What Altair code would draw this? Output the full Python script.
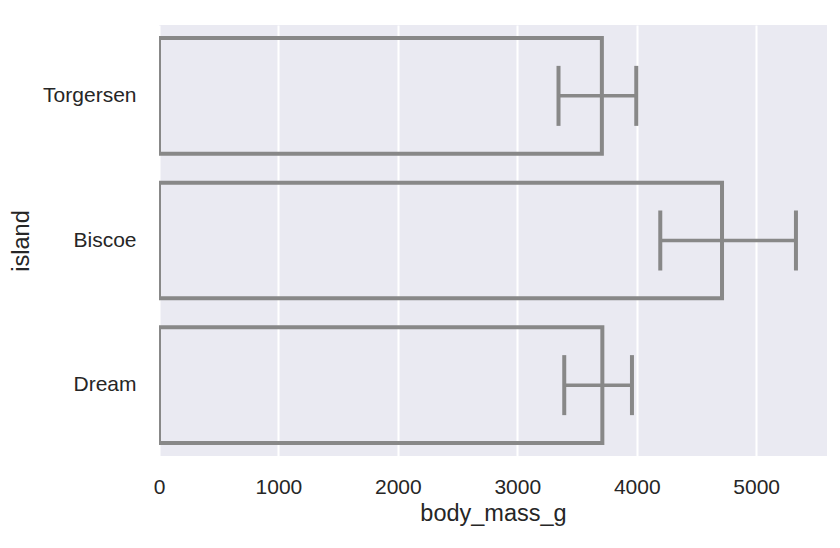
import altair as alt
import pandas as pd

islands = ["Torgersen", "Biscoe", "Dream"]
mean_mass = [3708, 4714, 3712]
err_low = [3345, 4197, 3393]
err_high = [3996, 5333, 3960]
x_ticks = [0, 1000, 2000, 3000, 4000, 5000]

df = pd.DataFrame({
    "island": islands,
    "body_mass_g": mean_mass,
    "lo": err_low,
    "hi": err_high,
})

GRAY = "#888888"
FONT = "Liberation Sans"
TEXT = "#262626"

y_enc = alt.Y(
    "island:N",
    sort=islands,
    scale=alt.Scale(paddingInner=0.2, paddingOuter=0.09),
    axis=alt.Axis(
        title="island", labelFontSize=21, titleFontSize=23.5, labelPadding=23,
        titlePadding=9, ticks=False, domain=False, grid=False,
        labelColor=TEXT, titleColor=TEXT, labelFont=FONT, titleFont=FONT,
        titleFontWeight="normal",
    ),
)

x_scale = alt.Scale(domain=[0, 5593], nice=False, zero=True)
x_axis = alt.Axis(
    title="body_mass_g", values=x_ticks, format="d", labelFontSize=21,
    titleFontSize=23.5, labelPadding=20.5, titlePadding=4, ticks=False,
    domain=False, grid=True, gridColor="white", gridWidth=2, gridOpacity=1,
    labelFlush=False, labelColor=TEXT, titleColor=TEXT, labelFont=FONT,
    titleFont=FONT, titleFontWeight="normal",
)

base = alt.Chart(df)

bars = base.mark_bar(
    fill="transparent", stroke=GRAY, strokeWidth=4, clip=True,
).encode(
    x=alt.X("body_mass_g:Q", scale=x_scale, axis=x_axis),
    y=y_enc,
)

err_line = base.mark_rule(stroke=GRAY, strokeWidth=3.5).encode(
    x=alt.X("lo:Q", scale=x_scale),
    x2="hi:Q",
    y=alt.Y("island:N", sort=islands),
)

caps_lo = base.mark_tick(color=GRAY, size=60, thickness=4, opacity=1).encode(
    x=alt.X("lo:Q", scale=x_scale),
    y=alt.Y("island:N", sort=islands),
)
caps_hi = base.mark_tick(color=GRAY, size=60, thickness=4, opacity=1).encode(
    x=alt.X("hi:Q", scale=x_scale),
    y=alt.Y("island:N", sort=islands),
)

chart = alt.layer(bars, err_line, caps_lo, caps_hi).properties(
    width=668, height=431,
    background="white",
    padding={"left": 1, "top": 17, "right": 5, "bottom": 5},
).configure_view(
    fill="#EAEAF2", stroke=None,
)

chart.save("out.html", embed_options={"renderer": "svg", "actions": False})
